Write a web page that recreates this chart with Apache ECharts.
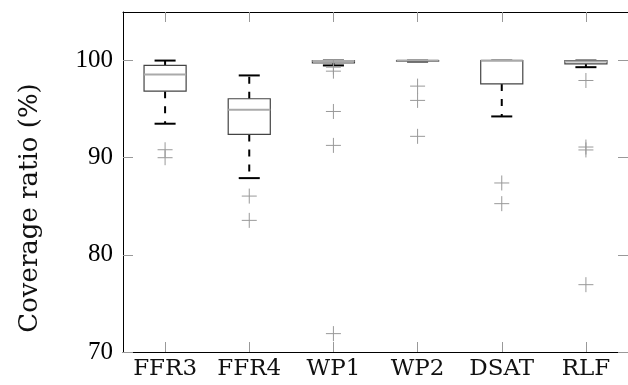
<!DOCTYPE html>
<html>
<head>
<meta charset="utf-8">
<script src="https://cdn.jsdelivr.net/npm/echarts@6/dist/echarts.min.js"></script>
<style>html,body{margin:0;padding:0;background:#fff}#c{width:628px;height:385px}</style>
</head>
<body>
<div id="c"></div>
<script>
var categories = ['FFR3', 'FFR4', 'WP1', 'WP2', 'DSAT', 'RLF'];
var lowWhisker = [93.5, 87.9, 99.5, 99.9, 94.25, 99.32];
var q1 = [96.85, 92.4, 99.75, 99.95, 97.6, 99.66];
var median = [98.57, 94.94, 99.95, 100, 100, 99.9];
var q3 = [99.5, 96.07, 100, 100, 100, 100];
var highWhisker = [100, 98.47, 100, 100, 100, 100];
var outliers = [
  [90.82, 90.0],
  [86.05, 83.55],
  [99.32, 98.91, 94.76, 91.27, 71.89],
  [97.37, 95.9, 92.2],
  [87.4, 85.27],
  [97.95, 91.1, 90.8, 76.93]
];
var yTicks = [70, 80, 90, 100];
var yLabel = 'Coverage ratio (%)';

var FONT = 'Liberation Serif';
var FONT2 = 'DejaVu Serif';
var boxData = categories.map(function (c, i) {
  return [i, lowWhisker[i], q1[i], median[i], q3[i], highWhisker[i]];
});
var outData = [];
outliers.forEach(function (arr, i) { arr.forEach(function (v) { outData.push([i, v]); }); });

var chart = echarts.init(document.getElementById('c'));
var tickStyle = { show: true, inside: true, length: 10, lineStyle: { color: '#999', width: 1 } };
chart.setOption({
  animation: false,
  grid: { left: 123, top: 12, bottom: 33, right: -9 },
  xAxis: [{
    type: 'category', data: categories, position: 'bottom',
    axisLine: { lineStyle: { color: '#000', width: 1 } },
    axisTick: Object.assign({ alignWithLabel: true }, tickStyle),
    axisLabel: { fontFamily: FONT2, fontSize: 23, color: '#111', margin: 6, interval: 0, hideOverlap: false },
    splitLine: { show: false }
  }, {
    type: 'category', data: categories, position: 'top',
    axisLine: { lineStyle: { color: '#000', width: 1 } },
    axisTick: Object.assign({ alignWithLabel: true, interval: 0 }, tickStyle),
    axisLabel: { show: false },
    splitLine: { show: false }
  }],
  yAxis: [{
    type: 'value', min: 70, max: 105, interval: 10, position: 'left',
    axisLine: { show: true, lineStyle: { color: '#000', width: 1 } },
    axisTick: Object.assign({ customValues: yTicks }, tickStyle),
    axisLabel: { fontFamily: FONT, fontSize: 25, color: '#000', margin: 10, customValues: yTicks },
    splitLine: { show: false }
  }, {
    type: 'value', min: 70, max: 105, interval: 10, position: 'right',
    axisLine: { show: true, lineStyle: { color: '#000', width: 1 } },
    axisTick: Object.assign({ customValues: yTicks }, tickStyle),
    axisLabel: { show: false },
    splitLine: { show: false }
  }],
  graphic: [{
    type: 'text', x: 30, y: 208, rotation: Math.PI / 2,
    style: { text: yLabel, font: '26px "' + FONT2 + '"', fill: '#111', align: 'center', verticalAlign: 'middle' }
  }],
  series: [{
    type: 'custom',
    data: boxData,
    renderItem: function (params, api) {
      var i = api.value(0);
      var pLow = api.coord([i, api.value(1)]);
      var pQ1 = api.coord([i, api.value(2)]);
      var pMed = api.coord([i, api.value(3)]);
      var pQ3 = api.coord([i, api.value(4)]);
      var pHigh = api.coord([i, api.value(5)]);
      var bw = api.size([1, 0])[0] * 0.5;
      var cw = bw * 0.5;
      var x = pQ1[0];
      var dash = { stroke: '#000', lineWidth: 2, lineDash: [7, 8] };
      return {
        type: 'group',
        children: [
          { type: 'line', shape: { x1: x, y1: pQ1[1], x2: x, y2: pLow[1] }, style: dash },
          { type: 'line', shape: { x1: x, y1: pQ3[1], x2: x, y2: pHigh[1] }, style: dash },
          { type: 'line', shape: { x1: x - cw / 2, y1: pLow[1], x2: x + cw / 2, y2: pLow[1] }, style: { stroke: '#000', lineWidth: 2 } },
          { type: 'line', shape: { x1: x - cw / 2, y1: pHigh[1], x2: x + cw / 2, y2: pHigh[1] }, style: { stroke: '#000', lineWidth: 2 } },
          { type: 'rect', shape: { x: x - bw / 2, y: pQ3[1], width: bw, height: pQ1[1] - pQ3[1] }, style: { fill: '#fff', stroke: '#444', lineWidth: 1.2 } },
          { type: 'line', shape: { x1: x - bw / 2, y1: pMed[1], x2: x + bw / 2, y2: pMed[1] }, style: { stroke: '#aaa', lineWidth: 2 } }
        ]
      };
    }
  }, {
    type: 'custom',
    data: outData,
    renderItem: function (params, api) {
      var p = api.coord([api.value(0), api.value(1)]);
      var s = 7.5;
      var st = { stroke: '#999', lineWidth: 1 };
      return {
        type: 'group',
        children: [
          { type: 'line', shape: { x1: p[0] - s, y1: p[1], x2: p[0] + s, y2: p[1] }, style: st },
          { type: 'line', shape: { x1: p[0], y1: p[1] - s, x2: p[0], y2: p[1] + s }, style: st }
        ]
      };
    }
  }]
});
</script>
</body>
</html>
